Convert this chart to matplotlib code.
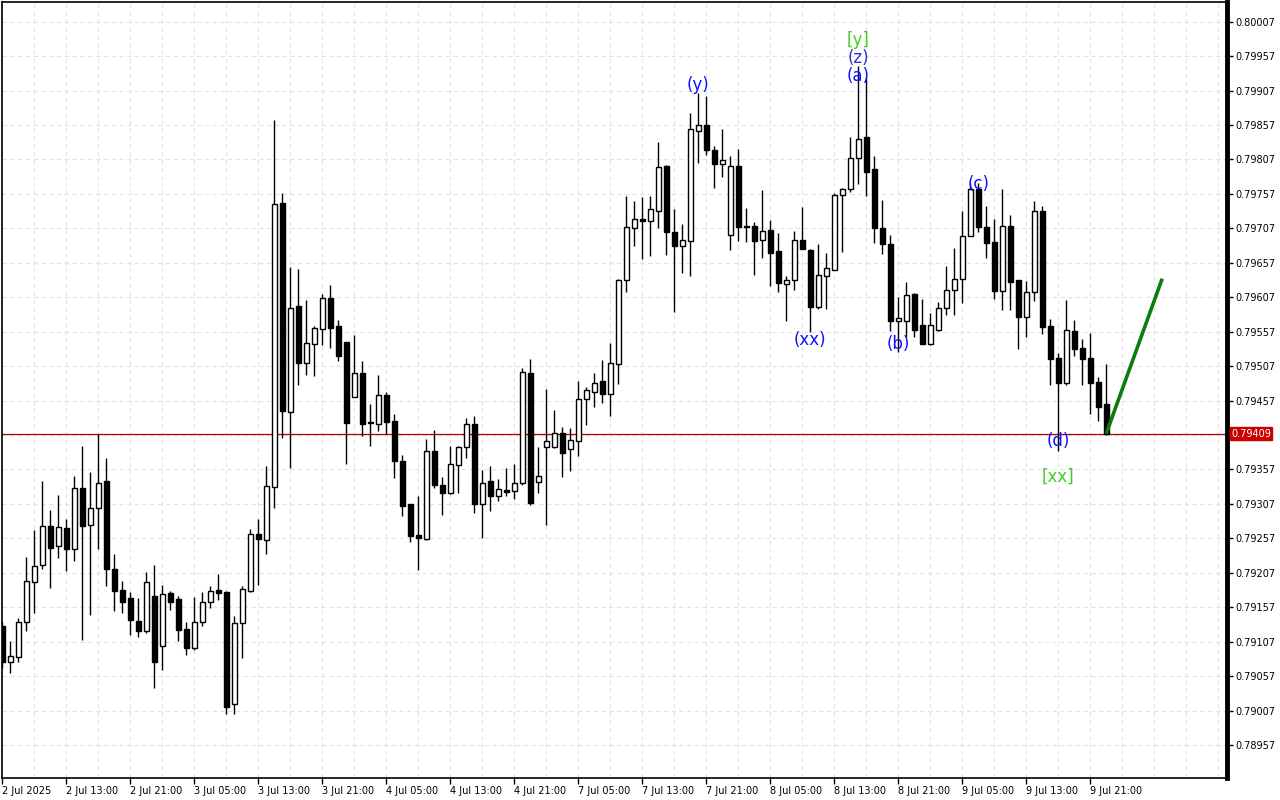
import matplotlib
matplotlib.use("Agg")
import matplotlib.pyplot as plt
from matplotlib.ticker import MultipleLocator

# H1 bars, 2 Jul 2025 05:00 .. 9 Jul 2025 23:00 (bar index on x)
open_ = [0.79130, 0.79078, 0.79085, 0.79135, 0.79194, 0.79218, 0.79275, 0.79246, 0.79272, 0.79242,
         0.79330, 0.79276, 0.79301, 0.79340, 0.79212, 0.79182, 0.79170, 0.79137, 0.79123, 0.79173,
         0.79101, 0.79178, 0.79169, 0.79125, 0.79098, 0.79136, 0.79164, 0.79182, 0.79179, 0.79016,
         0.79134, 0.79181, 0.79263, 0.79255, 0.79332, 0.79744, 0.79440, 0.79594, 0.79512, 0.79539,
         0.79561, 0.79606, 0.79565, 0.79542, 0.79462, 0.79497, 0.79426, 0.79423, 0.79465, 0.79427,
         0.79370, 0.79307, 0.79262, 0.79256, 0.79384, 0.79335, 0.79323, 0.79364, 0.79389, 0.79423,
         0.79307, 0.79340, 0.79319, 0.79327, 0.79326, 0.79338, 0.79497, 0.79339, 0.79390, 0.79390,
         0.79410, 0.79387, 0.79398, 0.79460, 0.79470, 0.79485, 0.79467, 0.79510, 0.79632, 0.79707,
         0.79720, 0.79717, 0.79732, 0.79798, 0.79701, 0.79681, 0.79688, 0.79849, 0.79857, 0.79821,
         0.79801, 0.79697, 0.79798, 0.79709, 0.79711, 0.79690, 0.79704, 0.79674, 0.79626, 0.79632,
         0.79690, 0.79676, 0.79593, 0.79638, 0.79647, 0.79755, 0.79764, 0.79809, 0.79839, 0.79793,
         0.79707, 0.79685, 0.79573, 0.79573, 0.79611, 0.79566, 0.79539, 0.79560, 0.79591, 0.79618,
         0.79634, 0.79696, 0.79764, 0.79709, 0.79687, 0.79616, 0.79710, 0.79632, 0.79578, 0.79614,
         0.79732, 0.79565, 0.79519, 0.79483, 0.79558, 0.79534, 0.79519, 0.79484, 0.79452]
high = [0.79136, 0.79108, 0.79141, 0.79230, 0.79269, 0.79340, 0.79298, 0.79320, 0.79285, 0.79348,
        0.79391, 0.79354, 0.79408, 0.79374, 0.79235, 0.79195, 0.79179, 0.79171, 0.79208, 0.79218,
        0.79189, 0.79181, 0.79173, 0.79136, 0.79172, 0.79179, 0.79188, 0.79205, 0.79181, 0.79144,
        0.79188, 0.79271, 0.79285, 0.79362, 0.79864, 0.79759, 0.79651, 0.79648, 0.79603, 0.79565,
        0.79612, 0.79625, 0.79574, 0.79542, 0.79552, 0.79514, 0.79452, 0.79494, 0.79470, 0.79437,
        0.79378, 0.79307, 0.79318, 0.79401, 0.79414, 0.79346, 0.79391, 0.79391, 0.79432, 0.79434,
        0.79356, 0.79362, 0.79343, 0.79359, 0.79365, 0.79504, 0.79517, 0.79390, 0.79474, 0.79444,
        0.79418, 0.79417, 0.79485, 0.79477, 0.79497, 0.79516, 0.79541, 0.79634, 0.79754, 0.79747,
        0.79753, 0.79754, 0.79833, 0.79799, 0.79735, 0.79713, 0.79874, 0.79904, 0.79899, 0.79827,
        0.79851, 0.79812, 0.79822, 0.79736, 0.79716, 0.79763, 0.79719, 0.79700, 0.79638, 0.79703,
        0.79738, 0.79677, 0.79684, 0.79671, 0.79758, 0.79766, 0.79839, 0.79942, 0.79925, 0.79812,
        0.79748, 0.79698, 0.79607, 0.79629, 0.79613, 0.79604, 0.79584, 0.79600, 0.79652, 0.79678,
        0.79732, 0.79773, 0.79773, 0.79739, 0.79720, 0.79764, 0.79727, 0.79632, 0.79630, 0.79746,
        0.79740, 0.79575, 0.79526, 0.79603, 0.79574, 0.79546, 0.79555, 0.79491, 0.79510]
low = [0.79069, 0.79062, 0.79077, 0.79123, 0.79149, 0.79213, 0.79185, 0.79228, 0.79210, 0.79224,
       0.79110, 0.79146, 0.79242, 0.79188, 0.79152, 0.79149, 0.79117, 0.79114, 0.79120, 0.79040,
       0.79066, 0.79153, 0.79108, 0.79088, 0.79095, 0.79130, 0.79156, 0.79168, 0.79002, 0.79002,
       0.79084, 0.79179, 0.79189, 0.79234, 0.79301, 0.79402, 0.79359, 0.79479, 0.79494, 0.79493,
       0.79538, 0.79533, 0.79514, 0.79365, 0.79462, 0.79406, 0.79391, 0.79413, 0.79408, 0.79345,
       0.79290, 0.79252, 0.79211, 0.79255, 0.79330, 0.79291, 0.79321, 0.79323, 0.79374, 0.79294,
       0.79258, 0.79297, 0.79311, 0.79319, 0.79314, 0.79334, 0.79306, 0.79323, 0.79276, 0.79388,
       0.79346, 0.79355, 0.79377, 0.79422, 0.79448, 0.79454, 0.79435, 0.79481, 0.79614, 0.79681,
       0.79662, 0.79667, 0.79708, 0.79669, 0.79586, 0.79642, 0.79638, 0.79802, 0.79814, 0.79766,
       0.79782, 0.79675, 0.79689, 0.79687, 0.79639, 0.79664, 0.79624, 0.79614, 0.79573, 0.79617,
       0.79677, 0.79557, 0.79590, 0.79590, 0.79647, 0.79672, 0.79760, 0.79772, 0.79754, 0.79686,
       0.79670, 0.79558, 0.79527, 0.79549, 0.79550, 0.79539, 0.79538, 0.79558, 0.79581, 0.79581,
       0.79599, 0.79696, 0.79702, 0.79664, 0.79605, 0.79588, 0.79588, 0.79532, 0.79549, 0.79602,
       0.79553, 0.79480, 0.79384, 0.79480, 0.79522, 0.79480, 0.79438, 0.79428, 0.79407]
close = [0.79078, 0.79086, 0.79135, 0.79195, 0.79217, 0.79275, 0.79243, 0.79273, 0.79242, 0.79330,
         0.79275, 0.79301, 0.79338, 0.79212, 0.79180, 0.79165, 0.79138, 0.79123, 0.79193, 0.79078,
         0.79176, 0.79165, 0.79124, 0.79098, 0.79136, 0.79164, 0.79181, 0.79178, 0.79012, 0.79134,
         0.79183, 0.79263, 0.79256, 0.79333, 0.79742, 0.79442, 0.79591, 0.79512, 0.79540, 0.79562,
         0.79606, 0.79563, 0.79522, 0.79424, 0.79497, 0.79423, 0.79424, 0.79465, 0.79426, 0.79369,
         0.79304, 0.79261, 0.79257, 0.79384, 0.79334, 0.79323, 0.79365, 0.79389, 0.79423, 0.79307,
         0.79338, 0.79319, 0.79329, 0.79325, 0.79337, 0.79498, 0.79308, 0.79347, 0.79398, 0.79410,
         0.79381, 0.79400, 0.79460, 0.79472, 0.79483, 0.79467, 0.79511, 0.79632, 0.79709, 0.79720,
         0.79717, 0.79735, 0.79796, 0.79701, 0.79681, 0.79690, 0.79851, 0.79857, 0.79821, 0.79801,
         0.79806, 0.79798, 0.79709, 0.79711, 0.79689, 0.79703, 0.79671, 0.79627, 0.79632, 0.79690,
         0.79677, 0.79593, 0.79639, 0.79649, 0.79755, 0.79764, 0.79809, 0.79837, 0.79789, 0.79708,
         0.79685, 0.79573, 0.79577, 0.79610, 0.79559, 0.79539, 0.79566, 0.79591, 0.79618, 0.79633,
         0.79696, 0.79764, 0.79709, 0.79686, 0.79616, 0.79711, 0.79629, 0.79578, 0.79614, 0.79732,
         0.79564, 0.79518, 0.79483, 0.79560, 0.79532, 0.79518, 0.79482, 0.79448, 0.79409]

time_labels = ["2 Jul 2025", "2 Jul 13:00", "2 Jul 21:00", "3 Jul 05:00", "3 Jul 13:00",
               "3 Jul 21:00", "4 Jul 05:00", "4 Jul 13:00", "4 Jul 21:00", "7 Jul 05:00",
               "7 Jul 13:00", "7 Jul 21:00", "8 Jul 05:00", "8 Jul 13:00", "8 Jul 21:00",
               "9 Jul 05:00", "9 Jul 13:00", "9 Jul 21:00"]

# price scale levels shown on the right
price_levels = [0.78957, 0.79007, 0.79057, 0.79107, 0.79157, 0.79207, 0.79257, 0.79307,
                0.79357, 0.79407, 0.79457, 0.79507, 0.79557, 0.79607, 0.79657, 0.79707,
                0.79757, 0.79807, 0.79857, 0.79907, 0.79957, 0.80007]

# wave labels: (text, bar, price, color)
wave_text = ["(y)", "[y]", "(z)", "(a)", "(xx)", "(b)", "(c)", "(d)", "[xx]"]
wave_bar = [87, 107, 107, 107, 101, 112, 122, 132, 132]
wave_price = [0.79915, 0.79980, 0.79954, 0.79928, 0.79545, 0.79539, 0.79771, 0.79398, 0.79346]
wave_color = ["#1010ff", "#44cc22", "#3030d0", "#1010ff", "#1010ff", "#1010ff", "#1010ff", "#1010ff", "#44cc22"]

# projected line
proj_x = [138, 145]
proj_y = [0.79409, 0.79634]

fig = plt.figure(figsize=(12.8, 8), dpi=100)
ax = fig.add_axes([2 / 1280, 22 / 800, 1225 / 1280, 776 / 800])

n = len(close)
xs = list(range(n))
ax.vlines(xs, low, high, color="black", linewidth=1, zorder=2)
bottoms = [min(o, c) for o, c in zip(open_, close)]
heights = [max(abs(c - o), 0.000004) for o, c in zip(open_, close)]
colors = ["white" if c >= o else "black" for o, c in zip(open_, close)]
ax.bar(xs, heights, bottom=bottoms, width=0.58, color=colors, edgecolor="black",
       linewidth=1, zorder=3)

# current price line + label
last = close[-1]
ax.axhline(last, color="#b00000", linewidth=0.9, zorder=1)
ax.annotate(f"{last:.5f}", xy=(1, last), xycoords=("axes fraction", "data"),
            xytext=(4, 0), textcoords="offset pixels", ha="left", va="center",
            fontsize=7, color="white", annotation_clip=False,
            bbox=dict(boxstyle="square,pad=0.15", fc="#cc0000", ec="#cc0000"))

ax.plot(proj_x, proj_y, color="#0a7d0a", linewidth=2.6, zorder=4, solid_capstyle="butt")

for t, b, p, c in zip(wave_text, wave_bar, wave_price, wave_color):
    ax.text(b, p, t, color=c, fontsize=12, ha="center", va="center", zorder=5)

ax.set_xlim(-0.04, 153.1)
ax.set_ylim(0.789091, 0.800356)

# axes styling; the level hidden under the price box gets no text
ax.yaxis.tick_right()
ax.set_yticks(price_levels)
ax.set_yticklabels(["" if abs(v - last) < 0.0001 else f"{v:.5f}" for v in price_levels])
ax.set_xticks(list(range(0, 8 * len(time_labels), 8)))
ax.set_xticklabels(time_labels, ha="left")
ax.xaxis.set_minor_locator(MultipleLocator(4))
ax.tick_params(axis="both", which="major", labelsize=7, direction="out", length=4,
               width=1, colors="black", pad=2)
ax.tick_params(axis="x", which="minor", length=0)
ax.grid(which="both", axis="x", color="#e2e2e2", linestyle=(0, (4, 3)), linewidth=0.8, zorder=0)
ax.grid(which="major", axis="y", color="#e2e2e2", linestyle=(0, (4, 3)), linewidth=0.8, zorder=0)
ax.set_axisbelow(True)

for side in ["left", "top", "bottom"]:
    ax.spines[side].set_linewidth(1.2)
    ax.spines[side].set_color("black")
ax.spines["right"].set_linewidth(3.5)
ax.spines["right"].set_color("black")

fig.savefig("out.png", dpi=100, facecolor="white")
